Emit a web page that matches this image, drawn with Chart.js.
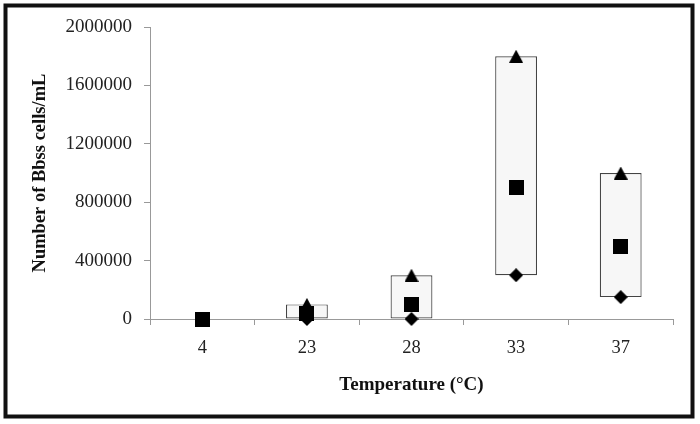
<!DOCTYPE html>
<html><head><meta charset="utf-8">
<script src="https://cdn.jsdelivr.net/npm/chart.js@4"></script>
<style>html,body{margin:0;padding:0;background:#fff}#wrap{width:700px;height:424px;position:relative}</style>
</head><body><div id="wrap"><canvas id="c" width="700" height="424"></canvas></div>
<script>
const categories = ['4', '23', '28', '33', '37'];
const maxValues = [0, 100000, 300000, 1800000, 1000000];
const meanValues = [0, 40000, 100000, 900000, 500000];
const minValues = [0, 0, 0, 300000, 150000];
const yTickValues = [0, 400000, 800000, 1200000, 1600000, 2000000];

function marker(kind, w, h) {
  const c = document.createElement('canvas');
  c.width = w; c.height = h;
  const g = c.getContext('2d');
  g.fillStyle = '#000';
  g.beginPath();
  if (kind === 'square') g.rect(0, 0, w, h);
  else if (kind === 'triangle') { g.moveTo(w / 2, 0); g.lineTo(w, h); g.lineTo(0, h); g.closePath(); }
  else { g.moveTo(w / 2, 0); g.lineTo(w, h / 2); g.lineTo(w / 2, h); g.lineTo(0, h / 2); g.closePath(); }
  g.fill();
  return c;
}
const triImg = marker('triangle', 14, 13);
const sqImg = marker('square', 15, 15);
const diaImg = marker('diamond', 14, 14);

const framePlugin = {
  id: 'frame',
  beforeDraw(chart) {
    const ctx = chart.ctx;
    ctx.save();
    ctx.fillStyle = '#fff';
    ctx.fillRect(0, 0, chart.width, chart.height);
    ctx.strokeStyle = '#111';
    ctx.lineWidth = 4;
    ctx.strokeRect(5.5, 5.5, 687, 411);
    ctx.restore();
  }
};

const FONT = "'Liberation Serif', 'Times New Roman', serif";

new Chart(document.getElementById('c'), {
  type: 'bar',
  data: {
    labels: categories,
    datasets: [
      {
        type: 'bar',
        label: 'Range',
        data: categories.map((_, i) => minValues[i] === maxValues[i] ? null : [minValues[i], maxValues[i]]),
        backgroundColor: '#f7f7f7',
        borderColor: '#444',
        borderWidth: 1.2,
        borderSkipped: false,
        barPercentage: 0.4,
        categoryPercentage: 1,
        order: 4
      },
      {
        type: 'line', label: 'Max', data: maxValues, showLine: false,
        pointStyle: triImg, pointRadius: 7, clip: false, order: 3
      },
      {
        type: 'line', label: 'Min', data: minValues, showLine: false,
        pointStyle: diaImg, pointRadius: 7, clip: false, order: 2
      },
      {
        type: 'line', label: 'Mean', data: meanValues, showLine: false,
        pointStyle: sqImg, pointRadius: 7, clip: false, order: 1
      }
    ]
  },
  options: {
    responsive: false,
    animation: false,
    layout: { padding: { top: 27, right: 27, bottom: 0, left: 0 } },
    plugins: { legend: { display: false }, tooltip: { enabled: false } },
    scales: {
      x: {
        type: 'category',
        offset: true,
        grid: { display: true, drawOnChartArea: false, drawTicks: true, tickLength: 6, color: '#999', offset: true },
        border: { display: true, color: '#999', width: 1 },
        ticks: { font: { family: FONT, size: 18.5 }, color: '#222', padding: 12, maxRotation: 0 },
        title: { display: true, text: 'Temperature (°C)', font: { family: FONT, size: 19, weight: 'bold' }, color: '#111', padding: { top: 0, bottom: 28 } },
        afterFit(s) { s.height = 105; }
      },
      y: {
        min: 0, max: 2000000,
        afterBuildTicks(s) { s.ticks = yTickValues.map(v => ({ value: v })); },
        grid: { display: true, drawOnChartArea: false, drawTicks: true, tickLength: 6, color: '#999' },
        border: { display: true, color: '#999', width: 1 },
        ticks: { font: { family: FONT, size: 19 }, color: '#222', padding: 12, callback: v => String(v) },
        title: { display: true, text: 'Number of Bbss cells/mL', font: { family: FONT, size: 18.5, weight: 'bold' }, color: '#111', padding: { top: 29, bottom: 0 } },
        afterFit(s) { s.width = 150; }
      }
    }
  },
  plugins: [framePlugin]
});
</script>
</body></html>
